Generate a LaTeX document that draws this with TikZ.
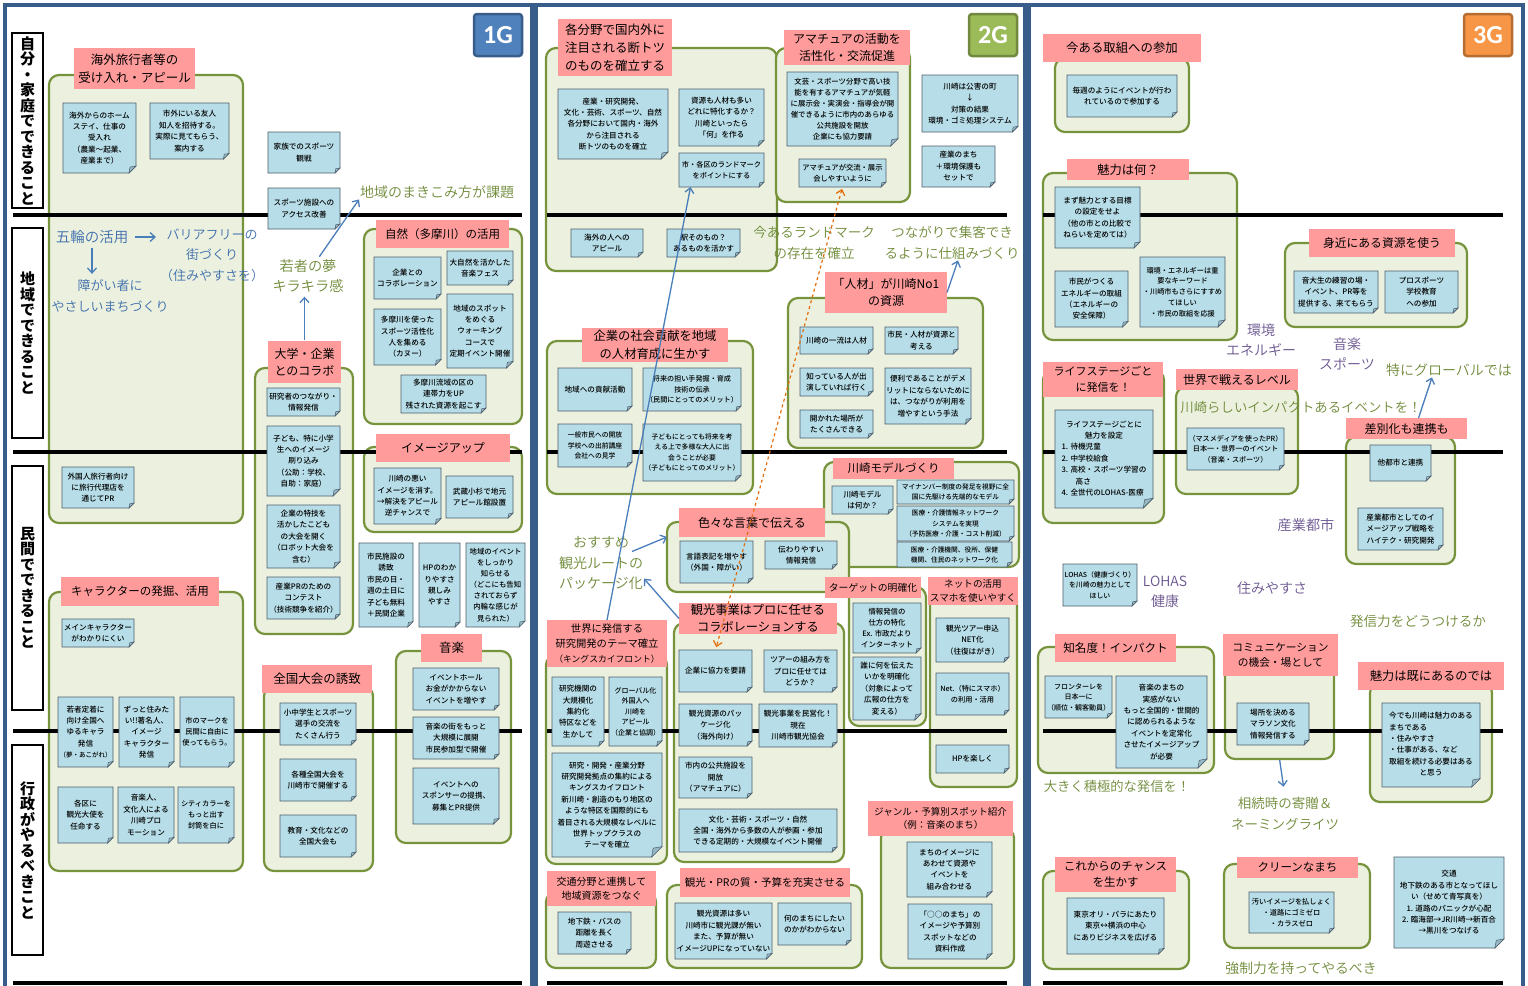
\documentclass[tikz,border=0pt]{standalone}
\usepackage{fontspec}
\setmainfont{Noto Sans CJK JP}
\newfontfamily\notefont{Noto Sans CJK JP Medium}
\newfontfamily\thinfont{Noto Sans CJK JP DemiLight}
\newfontfamily\gfont{Carlito}
\usetikzlibrary{arrows.meta}
\definecolor{grpc}{HTML}{77933C}
\definecolor{grpfill}{HTML}{EBF1DE}
\definecolor{hdrc}{HTML}{FF9B9B}
\definecolor{notec}{HTML}{B7DEE8}
\definecolor{noteb}{HTML}{4D5D6B}
\definecolor{foldc}{HTML}{95B8C4}
\definecolor{framec}{HTML}{385D8A}
\definecolor{olivec}{HTML}{6F8A38}
\definecolor{bluet}{HTML}{3E6DAD}
\definecolor{purpc}{HTML}{6A5590}
\definecolor{arrb}{HTML}{4A7EBB}
\definecolor{orng}{HTML}{E46C0A}
\definecolor{gAf}{HTML}{4F81BD}\definecolor{gAb}{HTML}{385D8A}
\definecolor{gBf}{HTML}{9BBB59}\definecolor{gBb}{HTML}{71893F}
\definecolor{gCf}{HTML}{F79646}\definecolor{gCb}{HTML}{B66D31}
\tikzset{
  every node/.style={inner sep=0pt, outer sep=0pt},
  grp/.style={draw=grpc, fill=grpfill, line width=2.2pt, rounded corners=10pt},
  hdr/.style={fill=hdrc, align=center},
  notebox/.style={fill=notec, draw=noteb, line width=0.8pt},
  notefold/.style={fill=foldc, draw=noteb, line width=0.5pt},
  notetext/.style={align=center},
  framebox/.style={draw=framec, line width=4.5pt},
  sepline/.style={draw=black, line width=4.5pt},
  rowlab/.style={draw=black, line width=1.3pt, fill=white, align=center, minimum width=31pt, font=\bfseries\fontsize{15}{15.5}\selectfont},
  fz/.style={font=\thinfont\fontsize{#1}{20.5}\selectfont},
  ftO/.style={align=center, inner sep=1pt, text=olivec},
  ftB/.style={align=center, inner sep=1pt, text=bluet},
  ftP/.style={align=center, inner sep=1pt, text=purpc},
  arr/.style={draw=arrb, line width=1.3pt, -{Straight Barb[length=5pt,width=9pt]}},
  darr/.style={draw=orng, line width=1.2pt, dashed, {Straight Barb[length=5pt,width=9pt]}-{Straight Barb[length=5pt,width=9pt]}},
  glab/.style={rounded corners=3pt, line width=2.5pt, minimum width=48pt, minimum height=42pt, text=white, font=\gfont\bfseries\fontsize{26}{26}\selectfont}
}
\newcommand\grpn[5]{\node[grp, minimum width={(#4-#2)*1pt}, minimum height={(#5-#3)*1pt}] (#1) at ({(#2+#4)/2},{(#3+#5)/2}) {};}
\newcommand\hdrn[7][12]{%
  \pgfmathsetmacro\hbs{1.42*#1}%
  \node[hdr, font=\fontsize{#1}{\hbs}\selectfont, minimum width={(#5-#3)*1pt}, minimum height={(#6-#4)*1pt}] (#2) at ({(#3+#5)/2},{(#4+#6)/2}) {#7};}
\newcommand\stk[7][7.6]{%
  \pgfmathsetmacro\fd{max(5,0.1*min(#5-#3,#6-#4))}%
  \pgfmathsetmacro\fbs{1.5*#1}%
  \filldraw[notebox] (#3,#4) -- (#5,#4) -- (#5,#6-\fd) -- (#5-\fd,#6) -- (#3,#6) -- cycle;
  \filldraw[notefold] (#5,#6-\fd) -- (#5-\fd,#6) -- (#5-0.85*\fd,#6-0.85*\fd) -- cycle;
  \node[notetext, font=\notefont\fontsize{#1}{\fbs}\selectfont, minimum width={(#5-#3)*1pt}, minimum height={(#6-#4)*1pt}] (#2) at ({(#3+#5)/2},{(#4+#6)/2}) {#7};}
\begin{document}
\begin{tikzpicture}[x=1pt,y=-1pt]
\useasboundingbox (0,0) rectangle (1528,985);
\clip (0,0) rectangle (1528,985);
\fill[white] (0,0) rectangle (1528,985);
% frames
\draw[framebox] (5,5) rectangle (532,1000);
\draw[framebox] (536,5) rectangle (1025,1000);
\draw[framebox] (1029,5) rectangle (1523,1000);
% ===== containers =====
\grpn{gA}{49}{75}{243}{523}
\grpn{gShizen}{364}{229}{522}{424}
\grpn{gDaigaku}{255}{368}{353}{634}
\grpn{gImage}{364}{447}{522}{532}
\grpn{gChara}{49}{592}{243}{871}
\grpn{gOngaku}{396}{651}{511}{843}
\grpn{gZenkoku}{264}{686}{373}{871}
\grpn{gKaku}{546}{48}{777}{271}
\grpn{gAma}{776}{48}{910}{202}
\grpn{gJinzai}{788}{298}{983}{448}
\grpn{gKigyo}{547}{341}{753}{494}
\grpn{gModel}{824}{462}{1019}{567}
\grpn{gIro}{667}{522}{849}{592}
\grpn{gTarget}{849}{587}{926}{726}
\grpn{gNet}{930}{590}{1017}{787}
\grpn{gKanko}{674}{623}{844}{862}
\grpn{gSekai}{546}{655}{667}{864}
\grpn{gKotsu}{546}{892}{656}{968}
\grpn{gPR}{667}{885}{862}{968}
\grpn{gGenre}{881}{828}{1014}{968}
\grpn{gTori}{1055}{58}{1189}{132}
\grpn{gMiryoku}{1043}{173}{1237}{340}
\grpn{gMijika}{1285}{243}{1467}{327}
\grpn{gLife}{1043}{370}{1164}{523}
\grpn{gSekaiL}{1176}{387}{1298}{494}
\grpn{gSabetsu}{1346}{437}{1455}{564}
\grpn{gChimei}{1038}{647}{1214}{773}
\grpn{gComm}{1225}{650}{1334}{759}
\grpn{gSude}{1370}{683}{1492}{802}
\grpn{gKore}{1043}{871}{1189}{969}
\grpn{gClean}{1224}{864}{1370}{948}
% ===== separator lines =====
\foreach \yy in {215,452,731,983} {
  \draw[sepline] (13,\yy) -- (522,\yy);
  \draw[sepline] (547,\yy) -- (1007,\yy);
  \draw[sepline] (1043,\yy) -- (1503,\yy);
}
% ===== headers =====
\hdrn[12.5]{hA}{74}{48}{195}{89}{海外旅行者等の\\受け入れ・アピール}
\hdrn[11.5]{hShizen}{376}{220}{509}{248}{自然（多摩川）の活用}
\hdrn[12]{hDaigaku}{268}{341}{341}{383}{大学・企業\\とのコラボ}
\hdrn[12]{hImage}{376}{434}{510}{462}{イメージアップ}
\hdrn[11.5]{hChara}{61}{577}{219}{606}{キャラクターの発掘、活用}
\hdrn[12.5]{hOngaku}{421}{634}{482}{662}{音楽}
\hdrn[12.5]{hZenkoku}{262}{665}{372}{693}{全国大会の誘致}
\hdrn[12.5]{hKaku}{558}{19}{672}{76}{各分野で国内外に\\注目される断トツ\\のものを確立する}
\hdrn[12]{hAma}{784}{30}{910}{65}{アマチュアの活動を\\活性化・交流促進}
\hdrn[12]{hJinzai}{825}{272}{947}{313}{「人材」が川崎No1\\の資源}
\hdrn[12.3]{hKigyo}{582}{328}{728}{362}{企業の社会貢献を地域\\の人材育成に生かす}
\hdrn[11.5]{hModel}{833}{458}{954}{479}{川崎モデルづくり}
\hdrn[12]{hIro}{679}{508}{825}{537}{色々な言葉で伝える}
\hdrn[9.8]{hTarget}{825}{577}{921}{598}{ターゲットの明確化}
\hdrn[9.6]{hNet}{928}{577}{1018}{605}{ネットの活用\\スマホを使いやすく}
\hdrn[12.2]{hKanko}{679}{603}{837}{634}{観光事業はプロに任せる\\コラボレーションする}
\hdrn[10.3]{hSekai}{547}{620}{667}{667}{世界に発信する\\研究開発のテーマ確立\\{\fontsize{8.8}{14}\selectfont （キングスカイフロント）}}
\hdrn[10]{hKotsu}{547}{871}{656}{906}{交通分野と連携して\\地域資源をつなぐ}
\hdrn[10.5]{hPR}{680}{868}{850}{897}{観光・PRの質・予算を充実させる}
\hdrn[9.5]{hGenre}{868}{801}{1013}{836}{ジャンル・予算別スポット紹介\\（例：音楽のまち）}
\hdrn[12.4]{hTori}{1043}{34}{1201}{62}{今ある取組への参加}
\hdrn[12.3]{hMiryoku}{1067}{159}{1189}{180}{魅力は何？}
\hdrn[11.8]{hMijika}{1309}{229}{1455}{257}{身近にある資源を使う}
\hdrn[11]{hLife}{1043}{362}{1163}{397}{ライフステージごと\\に発信を！}
\hdrn[12]{hSekaiL}{1176}{369}{1298}{390}{世界で戦えるレベル}
\hdrn[12]{hSabetsu}{1346}{418}{1467}{439}{差別化も連携も}
\hdrn[11.6]{hChimei}{1055}{634}{1176}{662}{知名度！インパクト}
\hdrn[10.7]{hComm}{1223}{634}{1338}{676}{コミュニケーション\\の機会・場として}
\hdrn[12.2]{hSude}{1358}{662}{1504}{690}{魅力は既にあるのでは}
\hdrn[11.5]{hKore}{1055}{857}{1176}{892}{これからのチャンス\\を生かす}
\hdrn[11.5]{hClean}{1237}{857}{1358}{878}{クリーンなまち}
% ===== notes: panel 1 =====
\stk{n1}{63}{103}{136}{173}{海外からのホーム\\ステイ、仕事の\\受入れ\\（農業～起業、\\産業まで）}
\stk{n2}{150}{103}{229}{159}{市外にいる友人\\知人を招待する。\\実際に見てもらう、\\案内する}
\stk{n3}{268}{132}{340}{173}{家族でのスポーツ\\観戦}
\stk{n4}{268}{188}{340}{229}{スポーツ施設への\\アクセス改善}
\stk{n5}{62}{467}{134}{508}{外国人旅行者向け\\に旅行代理店を\\通じてPR}
\stk{n6}{374}{257}{441}{299}{企業との\\コラボレーション}
\stk{n7}{447}{251}{513}{285}{大自然を活かした\\音楽フェス}
\stk{n8}{374}{309}{441}{365}{多摩川を使った\\スポーツ活性化\\人を集める\\（カヌー）}
\stk{n9}{447}{294}{513}{368}{地域のスポット\\をめぐる\\ウォーキング\\コースで\\定期イベント開催}
\stk{n10}{401}{375}{486}{413}{多摩川流域の区の\\連帯力をUP\\残された資源を起こす}
\stk{n11}{267}{388}{340}{416}{研究者のつながり・\\情報発信}
\stk{n12}{267}{426}{340}{496}{子ども、特に小学\\生へのイメージ\\刷り込み\\（公助：学校、\\自助：家庭）}
\stk{n13}{267}{505}{340}{568}{企業の特技を\\活かしたこども\\の大会を開く\\（ロボット大会を\\含む）}
\stk{n14}{267}{577}{340}{619}{産業PRのための\\コンテスト\\（技術競争を紹介）}
\stk{n15}{374}{468}{441}{524}{川崎の悪い\\イメージを消す。\\→解決をアピール\\逆チャンスで}
\stk{n16}{446}{476}{513}{518}{武蔵小杉で地元\\アピール館設置}
\stk{n17}{359}{543}{413}{627}{市民施設の\\誘致\\市民の日・\\週の土日に\\子ども無料\\＋民間企業}
\stk{n18}{419}{543}{460}{627}{HPのわか\\りやすさ\\親しみ\\やすさ}
\stk[7.4]{n19}{466}{543}{525}{627}{地域のイベント\\をしっかり\\知らせる\\（どこにも告知\\されておらず\\内輪な感じが\\見られた）}
\stk{n20}{62}{619}{134}{647}{メインキャラクター\\がわかりにくい}
\stk{n21}{58}{697}{113}{767}{若者定着に\\向け全国へ\\ゆるキャラ\\発信\\{\fontsize{6.5}{11}\selectfont （夢・あこがれ）}}
\stk{n22}{119}{697}{174}{767}{ずっと住みた\\い!!著名人、\\イメージ\\キャラクター\\発信}
\stk[7.2]{n23}{180}{697}{234}{767}{市のマークを\\民間に自由に\\使ってもらう。}
\stk{n24}{58}{787}{113}{843}{各区に\\観光大使を\\任命する}
\stk{n25}{118}{787}{174}{843}{音楽人、\\文化人による\\川崎プロ\\モーション}
\stk[7.2]{n26}{178}{787}{234}{843}{シティカラーを\\もっと出す\\封筒を白に}
\stk{n27}{280}{703}{356}{745}{小中学生とスポーツ\\選手の交流を\\たくさん行う}
\stk{n28}{280}{759}{356}{801}{各種全国大会を\\川崎市で開催する}
\stk{n29}{280}{815}{356}{857}{教育・文化などの\\全国大会も}
\stk{n30}{413}{668}{499}{710}{イベントホール\\お金がかからない\\イベントを増やす}
\stk{n31}{413}{717}{499}{759}{音楽の街をもっと\\大規模に展開\\市民参加型で開催}
\stk{n32}{413}{768}{499}{824}{イベントへの\\スポンサーの提携、\\募集とPR提供}
% ===== notes: panel 2 =====
\stk{m1}{558}{89}{668}{159}{産業・研究開発、\\文化・芸術、スポーツ、自然\\各分野において国内・海外\\から注目される\\断トツのものを確立}
\stk{m2}{679}{89}{764}{146}{資源も人材も多い\\どれに特化するか？\\川崎といったら\\「何」を作る}
\stk[7.2]{m3}{679}{153}{764}{187}{市・各区のランドマーク\\をポイントにする}
\stk{m4}{571}{229}{643}{257}{海外の人への\\アピール}
\stk{m5}{667}{229}{740}{257}{駅そのもの？\\あるものを活かす}
\stk[7.4]{m6}{787}{72}{898}{146}{文芸・スポーツ分野で高い技\\能を有するアマチュアが気軽\\に展示会・実演会・指導会が開\\催できるように市内のあらゆる\\公共施設を開放\\企業にも協力要請}
\stk[7.3]{m7}{799}{159}{886}{187}{アマチュアが交流・展示\\会しやすいように}
\stk{m8}{922}{75}{1018}{132}{川崎は公害の町\\↓\\対策の結果\\環境・ゴミ処理システム}
\stk{m9}{922}{146}{995}{187}{産業のまち\\＋環境保護も\\セットで}
\stk{m10}{800}{327}{873}{354}{川崎の一流は人材}
\stk{m11}{885}{327}{958}{354}{市民・人材が資源と\\考える}
\stk{m12}{800}{368}{873}{396}{知っている人が出\\演していれば行く}
\stk{m13}{885}{368}{971}{424}{便利であることがデメ\\リットにならないために\\は、つながりが利用を\\増やすという手法}
\stk{m14}{800}{410}{873}{438}{開かれた場所が\\たくさんできる}
\stk{m15}{558}{368}{632}{411}{地域への貢献活動}
\stk[7.1]{m16}{643}{368}{741}{411}{将来の担い手発掘・育成\\技術の伝承\\（民間にとってのメリット）}
\stk[6.8]{m17}{558}{424}{632}{467}{一般市民への開放\\学校への出前講座\\会社への見学}
\stk[6.8]{m18}{643}{424}{741}{481}{子どもにとっても将来を考\\える上で多様な大人に出\\会うことが必要\\（子どもにとってのメリット）}
\stk{m19}{832}{486}{893}{514}{川崎モデル\\は何か？}
\stk[6.7]{m20}{897}{480}{1014}{504}{マイナンバー制度の発足を視野に全\\国に先駆ける先端的なモデル}
\stk[6.7]{m21}{897}{506}{1014}{541}{医療・介護情報ネットワーク\\システムを実現\\（予防医療・介護・コスト削減）}
\stk[6.7]{m22}{897}{542}{1012}{567}{医療・介護機関、役所、保健\\機関、住民のネットワーク化}
\stk{m23}{680}{541}{753}{583}{言語表記を増やす\\（外国・障がい）}
\stk{m24}{765}{541}{837}{569}{伝わりやすい\\情報発信}
\stk[7.4]{m25}{853}{603}{921}{653}{情報発信の\\仕方の特化\\Ex. 市政だより\\インターネット}
\stk{m26}{853}{657}{921}{720}{誰に何を伝えた\\いかを明確化\\（対象によって\\広報の仕方を\\変える）}
\stk{m27}{936}{618}{1009}{662}{観光ツアー申込\\NET化\\（往復はがき）}
\stk[7.2]{m28}{936}{673}{1009}{715}{Net.（特にスマホ）\\の利用・活用}
\stk{m29}{936}{745}{1009}{773}{HPを楽しく}
\stk{m30}{679}{650}{752}{692}{企業に協力を要請}
\stk{m31}{764}{650}{837}{692}{ツアーの組み方を\\プロに任せては\\どうか？}
\stk{m32}{679}{704}{752}{746}{観光資源のパッ\\ケージ化\\（海外向け）}
\stk{m33}{759}{704}{837}{747}{観光事業を民営化！\\現在\\川崎市観光協会}
\stk{m34}{679}{757}{752}{798}{市内の公共施設を\\開放\\（アマチュアに）}
\stk{m35}{679}{809}{837}{852}{文化・芸術・スポーツ・自然\\全国・海外から多数の人が参画・参加\\できる定期的・大規模なイベント開催}
\stk{m36}{552}{677}{604}{746}{研究機関の\\大規模化\\集約化\\特区などを\\生かして}
\stk[7.0]{m37}{609}{677}{662}{746}{グローバル化\\外国人へ\\川崎を\\アピール\\（企業と協調）}
\stk{m38}{552}{753}{662}{857}{研究・開発・産業分野\\研究開発拠点の集約による\\キングスカイフロント\\新川崎・創造のもり地区の\\ような特区を国際的にも\\着目される大規模なレベルに\\世界トップクラスの\\テーマを確立}
\stk{m39}{558}{912}{631}{954}{地下鉄・バスの\\距離を長く\\周遊させる}
\stk{m40}{675}{903}{772}{959}{観光資源は多い\\川崎市に観光課が無い\\また、予算が無い\\イメージUPになっていない}
\stk{m41}{778}{903}{851}{945}{何のまちにしたい\\のかがわからない}
\stk{m42}{907}{842}{992}{897}{まちのイメージに\\あわせて資源や\\イベントを\\組み合わせる}
\stk{m43}{908}{904}{992}{959}{「○○のまち」の\\イメージや予算別\\スポットなどの\\資料作成}
% ===== notes: panel 3 =====
\stk{p1}{1067}{75}{1177}{117}{毎週のようにイベントが行わ\\れているので参加する}
\stk{p2}{1055}{187}{1140}{248}{まず魅力とする目標\\の設定をせよ\\（他の市との比較で\\ねらいを定めては）}
\stk{p3}{1055}{271}{1128}{327}{市民がつくる\\エネルギーの取組\\（エネルギーの\\安全保障）}
\stk[7.2]{p4}{1140}{257}{1225}{327}{環境・エネルギーは重\\要なキーワード\\・川崎市もさらにすすめ\\てほしい\\・市民の取組を応援}
\stk{p5}{1294}{271}{1378}{313}{音大生の練習の場・\\イベント、PR等を\\提供する、来てもらう}
\stk{p6}{1385}{271}{1458}{313}{プロスポーツ\\学校教育\\への参加}
\stk{p7}{1055}{410}{1153}{508}{\begin{tabular}{@{}l@{}}\multicolumn{1}{@{}c@{}}{ライフステージごとに}\\\multicolumn{1}{@{}c@{}}{魅力を設定}\\1. 待機児童\\2. 中学校給食\\3. 高校・スポーツ学習の\\\hspace*{14pt}高さ\\4. 全世代のLOHAS-医療\end{tabular}}
\stk[7.1]{p8}{1187}{428}{1284}{470}{（マスメディアを使ったPR）\\日本一・世界一のイベント\\（音楽・スポーツ）}
\stk{p9}{1370}{445}{1431}{481}{他都市と連携}
\stk{p10}{1358}{508}{1443}{550}{産業都市としてのイ\\メージアップ戦略を\\ハイテク・研究開発}
\stk[6.9]{p11}{1063}{564}{1137}{606}{LOHAS（健康づくり）\\を川崎の魅力として\\ほしい}
\stk[7.0]{p12}{1045}{676}{1112}{718}{フロンターレを\\日本一に\\（順位・観客動員）}
\stk{p13}{1116}{676}{1207}{768}{音楽のまちの\\実感がない\\もっと全国的・世間的\\に認められるような\\イベントを定常化\\させたイメージアップ\\が必要}
\stk{p14}{1237}{703}{1309}{745}{場所を決める\\マラソン文化\\情報発信する}
\stk{p15}{1382}{703}{1480}{787}{\begin{tabular}{@{}l@{}}今でも川崎は魅力のある\\まちである\\・住みやすさ\\・仕事がある、など\\取組を続ける必要はある\\\multicolumn{1}{@{}c@{}}{と思う}\end{tabular}}
\stk{p16}{1067}{898}{1164}{954}{東京オリ・パラにあたり\\東京↔横浜の中心\\にありビジネスを広げる}
\stk[7.2]{p17}{1249}{892}{1334}{933}{汚いイメージを払しょく\\・道路にゴミゼロ\\・カラスゼロ}
\stk{p18}{1394}{857}{1504}{948}{交通\\地下鉄のある市となってほし\\い（せめて青写真を）\\1. 道路のパニックが心配\\2. 臨海部→JR川崎→新百合\\→黒川をつなげる}
% ===== row labels =====
\node[rowlab, minimum height=175pt] (r1) at (27.5,120.5) {自\\分\\・\\家\\庭\\で\\で\\き\\る\\こ\\と};
\node[rowlab, minimum height=210pt] (r2) at (27.5,333) {地\\域\\で\\で\\き\\る\\こ\\と};
\node[rowlab, minimum height=244pt] (r3) at (27.5,588) {民\\間\\で\\で\\き\\る\\こ\\と};
\node[rowlab, minimum height=210pt] (r4) at (27.5,850) {行\\政\\が\\や\\る\\べ\\き\\こ\\と};
% ===== free texts =====
\node[ftB, fz=14.5] (gorin) at (92,237) {五輪の活用};
\node[ftB, fz=13] (barrier) at (212,255) {バリアフリーの\\街づくり\\（住みやすさを）};
\node[ftB, fz=13] (shogai) at (110,296) {障がい者に\\やさしいまちづくり};
\node[ftO, fz=14.2] (wakamono) at (308,276) {若者の夢\\キラキラ感};
\node[ftO, fz=14] (chiiki) at (437,192) {地域のまきこみ方が課題};
\node[ftO, fz=13.5] (landmark) at (814,243) {今あるランドマーク\\の存在を確立};
\node[ftO, fz=13.5] (tsunagari) at (952,243) {つながりで集客でき\\るように仕組みづくり};
\node[ftO, fz=14] (osusume) at (601,563) {おすすめ\\観光ルートの\\パッケージ化};
\node[ftP, fz=14] (kankyo) at (1261,340) {環境\\エネルギー};
\node[ftP, fz=14] (ongakuS) at (1347,354) {音楽\\スポーツ};
\node[ftP, fz=14.2] (sangyo) at (1306,525) {産業都市};
\node[ftP, fz=14] (sumi) at (1272,588) {住みやすさ};
\node[ftP, fz=14] (lohas) at (1165,592) {LOHAS\\健康};
\node[ftO, fz=14] (global) at (1449,370) {特にグローバルでは};
\node[ftO, fz=13.4] (impact) at (1301,407) {川崎らしいインパクトあるイベントを！};
\node[ftO, fz=13.6] (hasshin) at (1418,621) {発信力をどうつけるか};
\node[ftO, fz=13.3] (ookiku) at (1117,786) {大きく積極的な発信を！};
\node[ftO, fz=13.5] (souzoku) at (1285,814) {相続時の寄贈＆\\ネーミングライツ};
\node[ftO, fz=13.8] (kyosei) at (1301,968) {強制力を持ってやるべき};
% ===== connectors =====
\draw[arr, shorten <=6pt, shorten >=3pt] (gorin.east) -- (gorin.east -| barrier.west);
\draw[arr, shorten <=3pt, shorten >=5pt] (gorin.south) -- (gorin.south |- shogai.north);
\draw[arr, shorten <=2pt] (wakamono.60) -- (chiiki.south west);
\draw[arr, shorten <=1pt, shorten >=3pt] (hDaigaku.north) -- (hDaigaku.north |- wakamono.south);
\draw[arr] (hSekai.north) -- ([xshift=-31pt]m3.south);
\draw[darr, shorten <=2pt, shorten >=3pt] (m7.south) -- (m30.north);
\draw[arr] ([xshift=-12pt]osusume.15) -- ([yshift=20pt]gIro.west);
\draw[arr] (hKanko.west) -- (osusume.-20);
\draw[arr] (hJinzai.east) -- ([xshift=6pt]tsunagari.south);
\draw[arr] ([xshift=12pt]hSabetsu.north) -- ([xshift=-17pt]global.south);
\draw[arr, shorten <=1pt, shorten >=10pt] (gComm.south) -- (souzoku.north);
% ===== group labels =====
\node[glab, fill=gAf, draw=gAb] (g1) at (498,35) {1G};
\node[glab, fill=gBf, draw=gBb] (g2) at (993,35) {2G};
\node[glab, fill=gCf, draw=gCb] (g3) at (1488,35) {3G};
\end{tikzpicture}
\end{document}
